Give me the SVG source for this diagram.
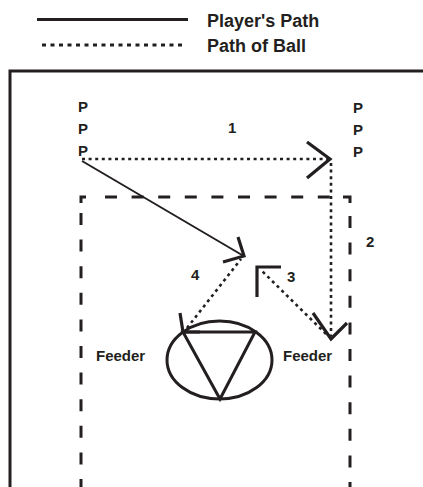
<svg xmlns="http://www.w3.org/2000/svg" width="423" height="487" viewBox="0 0 423 487">
<style>
.t{font-family:"Liberation Sans",Arial,sans-serif;font-weight:bold;fill:#231f20}
.lg{font-size:18px}
.p{font-size:15px}
.n{font-size:15px}
.solid{stroke:#231f20;stroke-width:2;fill:none}
.dot{stroke:#231f20;stroke-width:2.6;fill:none;stroke-dasharray:3 3.6}
.dash{stroke:#231f20;stroke-width:3;fill:none;stroke-dasharray:12 14.6}
.head{stroke:#231f20;stroke-width:3.2;fill:none;stroke-linecap:butt;stroke-linejoin:miter}
.thick{stroke:#231f20;stroke-width:3;fill:none}
</style>
<g id="legend">
<line x1="37" y1="19.5" x2="188" y2="19.5" class="thick"/>
<line x1="42" y1="45" x2="186" y2="45" class="thick" style="stroke-dasharray:4 4.5"/>
<text x="207" y="27" class="t lg">Player's Path</text>
<text x="207" y="52" class="t lg">Path of Ball</text>
</g>
<g id="field">
<path d="M10,487 V71 H423" class="thick"/>
<path d="M81,203 V197 H86" class="thick"/>
<path d="M343,197 H350 V203" class="thick"/>
<line x1="105" y1="197" x2="330" y2="197" class="dash"/>
<line x1="81" y1="213" x2="81" y2="487" class="dash"/>
<line x1="350" y1="216" x2="350" y2="487" class="dash"/>
</g>
<g id="players-left">
<text x="78" y="112" class="t p">P</text>
<text x="78" y="134" class="t p">P</text>
<text x="78" y="156" class="t p">P</text>
</g>
<g id="players-right">
<text x="353" y="113" class="t p">P</text>
<text x="353" y="135" class="t p">P</text>
<text x="353" y="157" class="t p">P</text>
</g>
<g id="feeder-center">
<ellipse cx="219.5" cy="360" rx="52.5" ry="39" class="thick"/>
<path d="M183,332 H255 L220,399 Z" class="thick" style="stroke-linejoin:miter"/>
</g>
<g id="feeder-left"><text x="96" y="361" class="t n">Feeder</text></g>
<g id="feeder-right"><text x="283" y="361" class="t n">Feeder</text></g>
<g id="connectors">
<line x1="82" y1="159" x2="328" y2="159" class="dot"/>
<path d="M307,142 L330,159 L307,178" class="head"/>
<line x1="331" y1="163" x2="331" y2="336" class="dot"/>
<path d="M313,313 L331,339 L347,323" class="head"/>
<line x1="82" y1="161" x2="242" y2="255" class="solid"/>
<path d="M238,237 L244,256 L223,262" class="head"/>
<line x1="326" y1="334" x2="261" y2="270" class="dot"/>
<path d="M281,267 H257 V297" class="head"/>
<line x1="187" y1="328" x2="241" y2="259" class="dot"/>
<path d="M180,313 L183,332 L200,332" class="head"/>
</g>
<g id="labels">
<text x="228" y="133" class="t n">1</text>
<text x="366" y="247" class="t n">2</text>
<text x="287" y="282" class="t n">3</text>
<text x="191" y="280" class="t n">4</text>
</g>
</svg>
